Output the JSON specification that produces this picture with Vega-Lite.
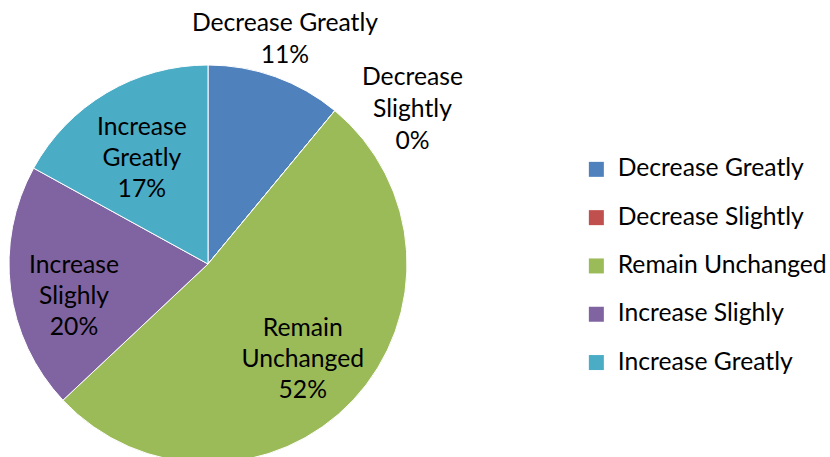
{
  "$schema": "https://vega.github.io/schema/vega-lite/v6.json",
  "autosize": {"type": "none"},
  "width": 416,
  "height": 386,
  "padding": {"left": 0, "top": 71, "right": 414, "bottom": 0},
  "background": "white",
  "config": {"view": {"stroke": null}, "font": "Lato"},
  "data": {
    "values": [
      {"idx": 1, "category": "Decrease Greatly", "label": "Decrease Greatly", "share": 0.11},
      {"idx": 2, "category": "Decrease Slightly", "label": "Decrease\nSlightly", "share": 0.0},
      {"idx": 3, "category": "Remain Unchanged", "label": "Remain\nUnchanged", "share": 0.52},
      {"idx": 4, "category": "Increase Slighly", "label": "Increase\nSlighly", "share": 0.20},
      {"idx": 5, "category": "Increase Greatly", "label": "Increase\nGreatly", "share": 0.17}
    ]
  },
  "transform": [
    {"calculate": "datum.label + '\\n' + format(datum.share, '.0%')", "as": "text"}
  ],
  "encoding": {
    "theta": {"field": "share", "type": "quantitative", "stack": true},
    "order": {"field": "idx", "type": "quantitative"}
  },
  "layer": [
    {
      "mark": {"type": "arc", "outerRadius": 199, "stroke": "#ffffff", "strokeWidth": 1},
      "encoding": {
        "color": {
          "field": "category",
          "type": "nominal",
          "sort": ["Decrease Greatly", "Decrease Slightly", "Remain Unchanged", "Increase Slighly", "Increase Greatly"],
          "scale": {
            "domain": ["Decrease Greatly", "Decrease Slightly", "Remain Unchanged", "Increase Slighly", "Increase Greatly"],
            "range": ["#4F81BD", "#C0504D", "#9BBB59", "#8064A2", "#4BACC6"]
          },
          "legend": {
            "title": null,
            "orient": "none",
            "legendX": 584,
            "legendY": 86,
            "padding": 0,
            "symbolType": "square",
            "symbolSize": 225,
            "symbolStrokeWidth": 0,
            "labelFontSize": 24.7,
            "labelFont": "Lato",
            "labelColor": "#000000",
            "labelOffset": 9,
            "labelLimit": 300,
            "rowPadding": 22.3
          }
        }
      }
    },
    {
      "mark": {"type": "text", "radius": 130, "dy": -24, "fontSize": 24.7, "lineHeight": 31, "baseline": "middle", "align": "center", "color": "#000000", "lineBreak": "\n"},
      "encoding": {
        "text": {"condition": {"test": "datum.category == 'Remain Unchanged' || datum.category == 'Increase Greatly'", "field": "text"}, "value": ""}
      }
    },
    {
      "mark": {"type": "text", "radius": 130, "dx": -5, "dy": -14, "fontSize": 24.7, "lineHeight": 31, "baseline": "middle", "align": "center", "color": "#000000", "lineBreak": "\n"},
      "encoding": {
        "text": {"condition": {"test": "datum.category == 'Increase Slighly'", "field": "text"}, "value": ""}
      }
    },
    {
      "mark": {"type": "text", "radius": 236, "dx": -3, "dy": -18, "fontSize": 24.7, "lineHeight": 32, "baseline": "middle", "align": "center", "color": "#000000", "lineBreak": "\n"},
      "encoding": {
        "text": {"condition": {"test": "datum.category == 'Decrease Greatly'", "field": "text"}, "value": ""}
      }
    },
    {
      "mark": {"type": "text", "radius": 200, "dx": 77, "dy": -32, "fontSize": 24.7, "lineHeight": 32, "baseline": "middle", "align": "center", "color": "#000000", "lineBreak": "\n"},
      "encoding": {
        "text": {"condition": {"test": "datum.category == 'Decrease Slightly'", "field": "text"}, "value": ""}
      }
    }
  ]
}
